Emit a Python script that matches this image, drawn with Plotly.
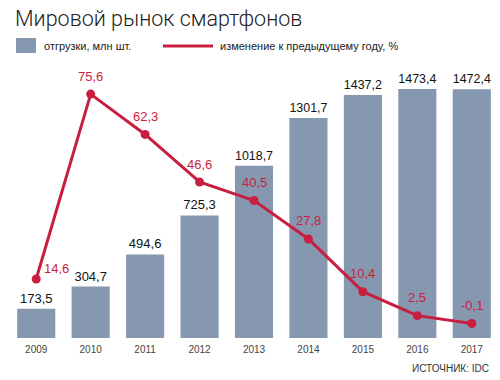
import plotly.graph_objects as go

years = ["2009", "2010", "2011", "2012", "2013", "2014", "2015", "2016", "2017"]
shipments = [173.5, 304.7, 494.6, 725.3, 1018.7, 1301.7, 1437.2, 1473.4, 1472.4]
change_pct = [14.6, 75.6, 62.3, 46.6, 40.5, 27.8, 10.4, 2.5, -0.1]

title_text = "Мировой рынок смартфонов"
bar_name = "отгрузки, млн шт."
line_name = "изменение к предыдущему году, %"
source_text = "ИСТОЧНИК: IDC"

BAR_COLOR = "#8698b0"
RED = "#c81e40"
FONT = "Liberation Sans, Arial, sans-serif"

W, H = 500, 380
ML, MR, MT, MB = 9, 1, 60, 42
PW, PH = W - ML - MR, H - MT - MB


def px_x(p):
    return (p - ML) / PW


def px_y(p):
    return (H - MB - p) / PH


def fmt(v):
    return f"{v:.1f}".replace(".", ",")


fig = go.Figure()
fig.add_trace(go.Bar(
    x=years, y=shipments, name=bar_name,
    marker=dict(color=BAR_COLOR, line=dict(width=0)),
    text=[fmt(v) for v in shipments], textposition="outside",
    textfont=dict(family=FONT, size=13, color="#111"),
    cliponaxis=False, showlegend=False, hoverinfo="skip",
))
fig.add_trace(go.Scatter(
    x=years, y=change_pct, name=line_name, yaxis="y2",
    mode="lines+markers",
    line=dict(color=RED, width=3),
    marker=dict(color=RED, size=9),
    cliponaxis=False, showlegend=False, hoverinfo="skip",
))

annotations = []
for i, v in enumerate(change_pct):
    xs, ys = (20, 10) if i == 0 else (0, 18)
    annotations.append(dict(
        x=i, y=v, xref="x", yref="y2", text=fmt(v), showarrow=False,
        xshift=xs, yshift=ys, xanchor="center", yanchor="middle",
        font=dict(family=FONT, size=13, color=RED),
    ))

annotations += [
    dict(x=px_x(42), y=px_y(46), xref="paper", yref="paper", text=bar_name,
         showarrow=False, xanchor="left", yanchor="middle",
         font=dict(family=FONT, size=11, color="#222")),
    dict(x=px_x(218), y=px_y(46), xref="paper", yref="paper", text=line_name,
         showarrow=False, xanchor="left", yanchor="middle",
         font=dict(family=FONT, size=11, color="#222")),
    dict(x=px_x(491), y=px_y(368), xref="paper", yref="paper", text=source_text,
         showarrow=False, xanchor="right", yanchor="middle",
         font=dict(family=FONT, size=10, color="#333")),
]

shapes = [
    dict(type="rect", xref="paper", yref="paper",
         x0=px_x(16), x1=px_x(36), y0=px_y(53), y1=px_y(38),
         fillcolor=BAR_COLOR, line=dict(width=0)),
    dict(type="line", xref="paper", yref="paper",
         x0=px_x(163), x1=px_x(213), y0=px_y(46), y1=px_y(46),
         line=dict(color=RED, width=3)),
]

fig.update_layout(
    width=W, height=H,
    margin=dict(l=ML, r=MR, t=MT, b=MB, pad=0),
    paper_bgcolor="white", plot_bgcolor="white",
    bargap=0.3,
    hovermode=False,
    title=dict(text=title_text, x=15 / W, xref="container", xanchor="left",
               y=1 - 18 / H, yref="container", yanchor="middle",
               pad=dict(l=0, r=0, t=0, b=0),
               font=dict(family="Roboto, sans-serif", size=21.5, color="#222",
                         weight=300)),
    xaxis=dict(type="category", range=[-0.5, len(years) - 0.5],
               showgrid=False, showline=False, zeroline=False,
               ticks="outside", ticklen=2, tickcolor="rgba(0,0,0,0)",
               tickfont=dict(family=FONT, size=10, color="#444")),
    yaxis=dict(range=[0, 1645], visible=False, showgrid=False, zeroline=False),
    yaxis2=dict(range=[-4.88, 86.86], overlaying="y", visible=False,
                showgrid=False, zeroline=False),
    annotations=annotations, shapes=shapes,
    showlegend=False,
)

fig.write_html(
    "out.html",
    config={"displayModeBar": False, "staticPlot": True},
    post_script="document.body.style.margin='0px';document.body.style.overflow='hidden';",
)
